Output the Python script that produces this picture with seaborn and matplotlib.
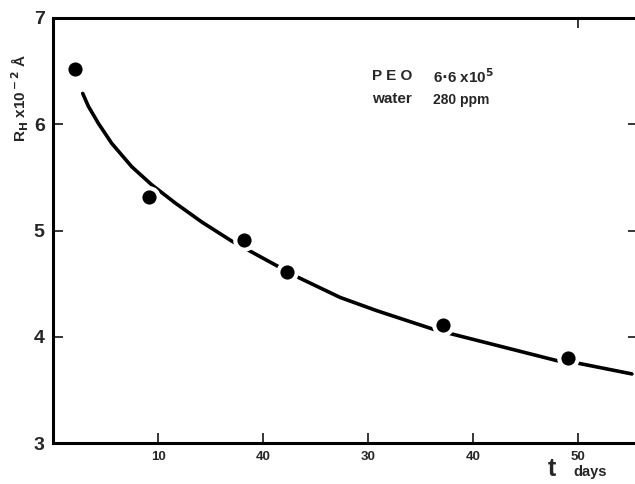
import matplotlib
matplotlib.use("Agg")
import matplotlib.pyplot as plt
import seaborn as sns
import pandas as pd

# ---- data ----
point_t = [2.1, 9.1, 18.2, 22.3, 37.1, 49.0]
point_r = [6.52, 5.32, 4.91, 4.61, 4.11, 3.80]

curve_t = [2.83, 3.36, 4.31, 5.59, 7.50, 9.40, 11.62, 14.16, 17.02, 19.24,
           21.46, 23.21, 27.33, 30.83, 36.22, 37.81, 47.97, 50.03, 55.11]
curve_r = [6.29, 6.17, 6.01, 5.82, 5.60, 5.43, 5.26, 5.08, 4.90, 4.78,
           4.66, 4.565, 4.37, 4.245, 4.07, 4.03, 3.775, 3.75, 3.65]

x_ticks = [10, 20, 30, 40, 50]
x_tick_labels = ["10", "40", "30", "40", "50"]
y_ticks = [3, 4, 5, 6, 7]
y_tick_labels = ["3", "4", "5", "6", "7"]

sns.set_theme(style="ticks")
plt.rcParams["font.family"] = ["Liberation Sans", "DejaVu Sans"]

W, H = 635, 484
fig = plt.figure(figsize=(W / 100, H / 100), dpi=100)
ax = fig.add_axes([53 / W, 1 - 443 / H, 1 - 53 / W, (443 - 18) / H])

curve = pd.DataFrame({"t": curve_t, "r": curve_r})
pts = pd.DataFrame({"t": point_t, "r": point_r})

sns.lineplot(data=curve, x="t", y="r", ax=ax, color="black", linewidth=2.6,
             sort=False, zorder=2)
sns.scatterplot(data=pts, x="t", y="r", ax=ax, s=175, color="black",
                edgecolor="white", linewidth=3, zorder=3)

ax.set_xlim(0, 55.4)
ax.set_ylim(3, 7)
ax.set_xlabel("")
ax.set_ylabel("")

ax.set_xticks(x_ticks)
ax.set_xticklabels(x_tick_labels, fontsize=9.5, fontweight="bold")
ax.set_yticks(y_ticks)
ax.set_yticklabels(y_tick_labels, fontsize=14, fontweight="bold")
ax.tick_params(axis="x", direction="in", length=7, width=1.3, pad=6)
ax.tick_params(axis="y", direction="in", length=7, width=1.3, pad=6)

for s in ["left", "bottom", "top"]:
    ax.spines[s].set_linewidth(2.2)
    ax.spines[s].set_color("black")
ax.spines["right"].set_visible(False)

# extra ticks on top and right (no spine on right)
sec_top = ax.secondary_xaxis("top")
sec_top.set_xticks([50])
sec_top.set_xticklabels([])
sec_top.tick_params(direction="in", length=7, width=1.3)
sec_top.spines["top"].set_visible(False)

sec_right = ax.secondary_yaxis("right")
sec_right.set_yticks([4, 5, 6])
sec_right.set_yticklabels([])
sec_right.tick_params(direction="in", length=5, width=1.3)
sec_right.spines["right"].set_visible(False)

# annotations
ax.text((372 - 53) / 10.5, 7 - (76 - 18) / 106.25, "P E O",
        fontsize=11, fontweight="bold", va="center", ha="left")
ax.text((433 - 53) / 10.5, 7 - (77 - 18) / 106.25, r"6$\bf{\cdot}$6 x10$^{\bf 5}$",
        fontsize=11, fontweight="bold", va="center", ha="left")
ax.text((372 - 53) / 10.5, 7 - (99 - 18) / 106.25, "water",
        fontsize=11, fontweight="bold", va="center", ha="left")
ax.text((433 - 53) / 10.5, 7 - (100 - 18) / 106.25, "280 ppm",
        fontsize=10, fontweight="bold", va="center", ha="left")

fig.text(20 / W, 1 - 98 / H, r"R$_{\bf H}$ x10$^{\bf -2}$ Å", rotation=90,
         fontsize=11, fontweight="bold", ha="center", va="center")
fig.text(552 / W, 1 - 469 / H, "t", fontsize=18, fontweight="bold",
         ha="center", va="center")
fig.text(573 / W, 1 - 472 / H, "days", fontsize=10.5, fontweight="bold",
         ha="left", va="center")

fig.savefig("out.png", dpi=100)
